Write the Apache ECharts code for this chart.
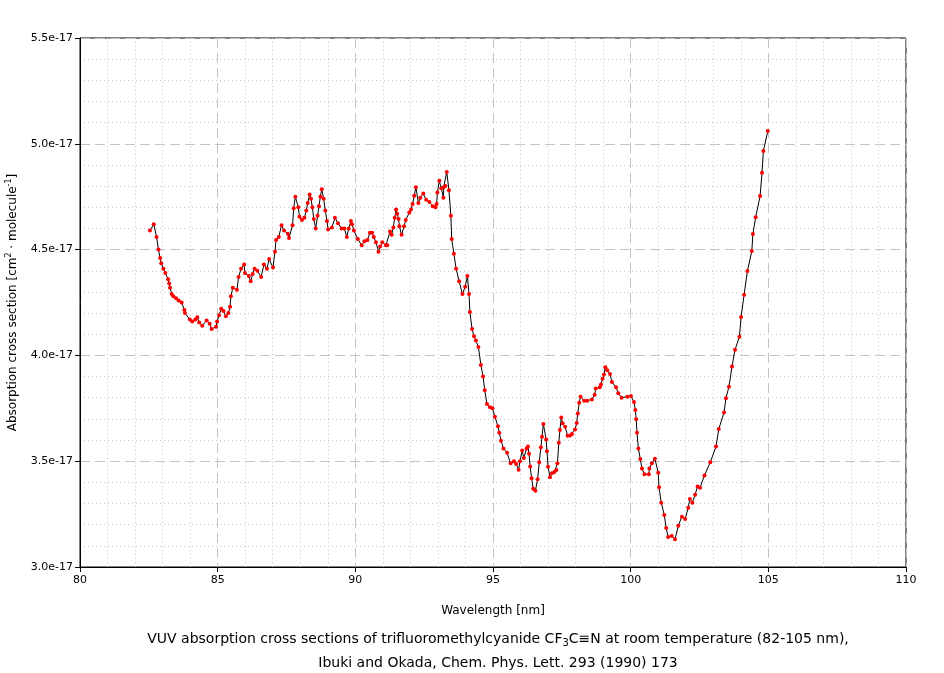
<!DOCTYPE html>
<html>
<head>
<meta charset="utf-8">
<script src="https://cdn.jsdelivr.net/npm/echarts@6/dist/echarts.min.js"></script>
<style>
html,body{margin:0;padding:0;background:#fff;}
#chart{width:944px;height:673px;}
</style>
</head>
<body>
<div id="chart"></div>
<script>
// Wavelength [nm]
const wavelength = [
82.54,82.68,82.78,82.85,82.91,82.95,83.03,83.10,83.20,83.24,83.27,83.33,83.39,83.49,83.58,83.69,83.79,83.81,83.99,84.08,
84.19,84.26,84.33,84.44,84.60,84.71,84.78,84.94,84.98,85.05,85.13,85.21,85.30,85.39,85.45,85.48,85.55,85.70,85.76,85.85,
85.96,85.99,86.13,86.20,86.27,86.34,86.44,86.58,86.68,86.79,86.87,87.01,87.08,87.12,87.22,87.32,87.41,87.55,87.59,87.72,
87.76,87.82,87.93,87.97,88.06,88.15,88.22,88.27,88.34,88.39,88.44,88.49,88.56,88.63,88.68,88.73,88.78,88.85,88.91,88.97,
89.01,89.15,89.26,89.37,89.50,89.60,89.69,89.76,89.84,89.88,89.95,90.09,90.23,90.33,90.44,90.53,90.61,90.67,90.75,90.84,
90.90,90.98,91.11,91.16,91.26,91.32,91.38,91.43,91.48,91.52,91.57,91.60,91.68,91.77,91.83,91.96,92.02,92.08,92.14,92.20,
92.29,92.36,92.47,92.57,92.69,92.81,92.91,92.95,92.98,93.05,93.12,93.20,93.21,93.27,93.32,93.40,93.47,93.50,93.58,93.66,
93.77,93.89,93.99,94.07,94.13,94.16,94.24,94.31,94.38,94.47,94.56,94.64,94.70,94.78,94.89,94.98,95.07,95.18,95.23,95.29,
95.38,95.51,95.64,95.76,95.84,95.93,95.98,96.06,96.12,96.22,96.27,96.31,96.35,96.40,96.46,96.54,96.62,96.68,96.74,96.78,
96.83,96.93,96.96,97.00,97.07,97.14,97.23,97.30,97.34,97.39,97.43,97.48,97.53,97.62,97.71,97.80,97.87,97.98,98.04,98.08,
98.13,98.18,98.31,98.42,98.59,98.69,98.73,98.88,98.92,98.98,99.03,99.08,99.15,99.25,99.32,99.47,99.55,99.67,99.88,100.01,
100.12,100.17,100.20,100.23,100.28,100.35,100.41,100.50,100.66,100.68,100.77,100.88,101.00,101.03,101.11,101.22,101.29,101.36,101.49,101.61,
101.73,101.86,101.98,102.09,102.15,102.24,102.34,102.43,102.52,102.68,102.89,103.10,103.20,103.39,103.46,103.57,103.68,103.79,103.95,104.01,
104.12,104.24,104.40,104.44,104.54,104.70,104.77,104.82,104.98
];
// Absorption cross section, in units of 1e-17 cm^2 molecule^-1
const sigmaE17 = [
4.59,4.62,4.56,4.50,4.46,4.435,4.41,4.39,4.36,4.34,4.32,4.29,4.28,4.27,4.26,4.25,4.215,4.20,4.17,4.16,
4.17,4.18,4.155,4.14,4.165,4.15,4.125,4.135,4.16,4.19,4.22,4.21,4.185,4.20,4.23,4.28,4.32,4.31,4.37,4.41,
4.43,4.39,4.375,4.35,4.385,4.41,4.40,4.37,4.43,4.41,4.455,4.415,4.49,4.545,4.56,4.615,4.59,4.575,4.555,4.615,
4.695,4.75,4.70,4.655,4.64,4.65,4.685,4.72,4.76,4.74,4.70,4.645,4.60,4.66,4.705,4.75,4.785,4.74,4.685,4.635,
4.595,4.605,4.65,4.625,4.60,4.60,4.56,4.60,4.635,4.62,4.59,4.55,4.52,4.54,4.545,4.58,4.58,4.56,4.535,4.49,
4.515,4.535,4.52,4.52,4.585,4.57,4.605,4.65,4.69,4.67,4.645,4.61,4.57,4.61,4.64,4.675,4.69,4.715,4.755,4.795,
4.72,4.745,4.765,4.735,4.725,4.705,4.70,4.715,4.77,4.825,4.79,4.745,4.795,4.80,4.867,4.78,4.66,4.55,4.48,4.41,
4.35,4.29,4.325,4.375,4.29,4.205,4.125,4.09,4.07,4.04,3.955,3.90,3.835,3.77,3.755,3.75,3.71,3.665,3.635,3.597,
3.56,3.54,3.49,3.50,3.487,3.46,3.50,3.55,3.515,3.56,3.57,3.535,3.475,3.42,3.37,3.36,3.415,3.495,3.566,3.616,
3.676,3.603,3.547,3.474,3.424,3.443,3.449,3.458,3.49,3.587,3.647,3.707,3.679,3.663,3.62,3.622,3.628,3.65,3.68,3.726,
3.776,3.805,3.786,3.786,3.792,3.814,3.843,3.849,3.863,3.89,3.91,3.944,3.93,3.912,3.874,3.849,3.821,3.80,3.805,3.808,
3.78,3.742,3.698,3.635,3.56,3.51,3.466,3.438,3.438,3.465,3.49,3.512,3.446,3.377,3.304,3.246,3.184,3.142,3.146,3.131,
3.195,3.238,3.227,3.28,3.321,3.304,3.342,3.38,3.375,3.433,3.495,3.569,3.652,3.73,3.797,3.852,3.947,4.027,4.088,4.181,
4.287,4.399,4.493,4.574,4.653,4.753,4.863,4.966,5.06
];
const xTicks = [80, 85, 90, 95, 100, 105, 110];
const yTicksE17 = [3.0, 3.5, 4.0, 4.5, 5.0, 5.5];

const seriesData = wavelength.map((w, i) => [w, sigmaE17[i]]);
const FONT = '"DejaVu Sans", "Liberation Sans", Arial, sans-serif';

const chart = echarts.init(document.getElementById('chart'), null, {renderer: 'canvas'});
chart.setOption({
  animation: false,
  backgroundColor: '#ffffff',
  title: {
    left: 493,
    textAlign: 'center',
    top: 622,
    text: 'VUV absorption cross sections of trifluoromethylcyanide CF{sub|3}C\u2261N at room temperature (82-105 nm),\nIbuki and Okada, Chem. Phys. Lett. 293 (1990) 173',
    textStyle: {
      fontFamily: FONT, fontSize: 14, fontWeight: 'normal', color: '#000', lineHeight: 24, align: 'center',
      rich: { sub: { fontFamily: FONT, fontSize: 10, color: '#000', padding: [8, 0, 0, 0] } }
    }
  },
  grid: {
    left: 80, right: 38, top: 38, bottom: 106,
    containLabel: false, outerBoundsMode: 'none',
    show: true, borderColor: '#000', borderWidth: 1, backgroundColor: 'transparent'
  },
  xAxis: {
    type: 'value', min: xTicks[0], max: xTicks[xTicks.length - 1], interval: 5,
    name: 'Wavelength [nm]', nameLocation: 'middle', nameGap: 38,
    nameTextStyle: { fontFamily: FONT, fontSize: 12, color: '#000' },
    axisLine: { show: true, onZero: false, lineStyle: { color: '#000', width: 1 } },
    axisTick: { show: true, length: 5, lineStyle: { color: '#000' } },
    axisLabel: { fontFamily: FONT, fontSize: 11, color: '#000', margin: 8,
      formatter: v => xTicks.includes(v) ? String(v) : '' },
    splitLine: { show: true, lineStyle: { color: '#c4c4c4', type: [10, 5], width: 1 } },
    minorTick: { show: false, splitNumber: 5 },
    minorSplitLine: { show: true, lineStyle: { color: '#c8c8c8', type: [1, 3], width: 1 } }
  },
  yAxis: {
    type: 'value', min: yTicksE17[0], max: yTicksE17[yTicksE17.length - 1], interval: 0.5,
    name: 'Absorption cross section [cm{sup|2} \u00B7 molecule{sup|-1}]',
    nameLocation: 'middle', nameGap: 59, nameRotate: 90,
    nameTextStyle: { fontFamily: FONT, fontSize: 12, color: '#000',
      rich: { sup: { fontFamily: FONT, fontSize: 8, color: '#000', padding: [0, 0, 8, 0] } } },
    axisLine: { show: true, onZero: false, lineStyle: { color: '#000', width: 1 } },
    axisTick: { show: true, length: 5, lineStyle: { color: '#000' } },
    axisLabel: { fontFamily: FONT, fontSize: 11, color: '#000', margin: 7,
      formatter: v => v.toFixed(1) + 'e-17' },
    splitLine: { show: true, lineStyle: { color: '#c4c4c4', type: [10, 5], width: 1 } },
    minorTick: { show: false, splitNumber: 5 },
    minorSplitLine: { show: true, lineStyle: { color: '#c8c8c8', type: [1, 3], width: 1 } }
  },
  series: [{
    type: 'line',
    data: seriesData,
    showSymbol: true,
    symbol: 'circle',
    symbolSize: 4,
    itemStyle: { color: '#ff0000', borderWidth: 0 },
    lineStyle: { color: '#000', width: 1 },
    z: 3
  }]
});
</script>
</body>
</html>
